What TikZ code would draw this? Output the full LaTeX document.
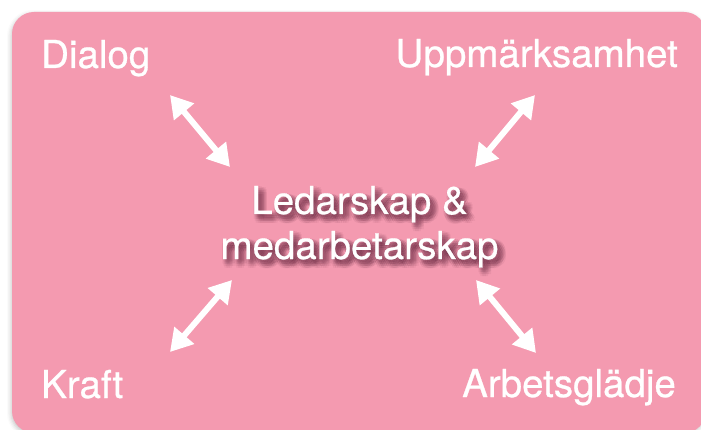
\documentclass[tikz,border=0pt]{standalone}
\usepackage{fontspec}
\newfontfamily\lblfont[FakeBold=0.7]{TeX Gyre Heros}
\usetikzlibrary{arrows.meta,shadows.blur}
\definecolor{pinkbg}{HTML}{F49AB0}
\definecolor{shadowcol}{HTML}{5A1F38}
\tikzset{
  lbl/.style={text=white, inner sep=0pt, font=\lblfont\fontsize{38.5}{46}\selectfont},
  shd/.style={text=shadowcol, inner sep=0pt, font=\lblfont\fontsize{38.5}{46}\selectfont, text opacity=0.05},
  dblarrow/.style={draw=white, line width=6pt, {Triangle[length=22pt,width=25pt]}-{Triangle[length=22pt,width=25pt]}}
}
\begin{document}
\begin{tikzpicture}[x=1pt,y=-1pt]
\useasboundingbox (0,0) rectangle (701,430);
\fill[pinkbg, rounded corners=22pt, blur shadow={shadow xshift=-1pt, shadow yshift=-2pt, shadow blur radius=4pt, shadow opacity=22}] (12,12) rectangle (706,433);
% blurred shadow of the central text
\foreach \dx/\dy in {0/1,2/1,4/1,6/2,8/2,1/3,3/3,5/3,7/3,9/4,0/5,2/5,4/5,6/5,8/5,1/7,3/7,5/7,7/7,9/7,2/9,4/9,6/9,4/4,5/6,3/5}{
  \node[shd, anchor=base] at (359.5+\dx-0.5,214+\dy-0.5) {Ledarskap \&};
  \node[shd, anchor=base] at (359.5+\dx-0.5,259+\dy-0.5) {medarbetarskap};
}
\node[lbl, anchor=base] (c1) at (359.5,214) {Ledarskap \&};
\node[lbl, anchor=base] (c2) at (359.5,259) {medarbetarskap};
\node[lbl, anchor=base west] (dialog) at (41,68) {Dialog};
\node[lbl, anchor=base east] (upp) at (678,67) {Uppmärksamhet};
\node[lbl, anchor=base west] (kraft) at (41,398) {Kraft};
\node[lbl, anchor=base east] (arb) at (676,397) {Arbetsglädje};
\coordinate (d1) at (170,95);
\coordinate (d2) at (230,167);
\coordinate (u1) at (535,95);
\coordinate (u2) at (475,167);
\coordinate (k1) at (232,280);
\coordinate (k2) at (170,352);
\coordinate (a1) at (476,280);
\coordinate (a2) at (536,353);
\draw[dblarrow] (d1) -- (d2);
\draw[dblarrow] (u1) -- (u2);
\draw[dblarrow] (k1) -- (k2);
\draw[dblarrow] (a1) -- (a2);
\end{tikzpicture}
\end{document}
